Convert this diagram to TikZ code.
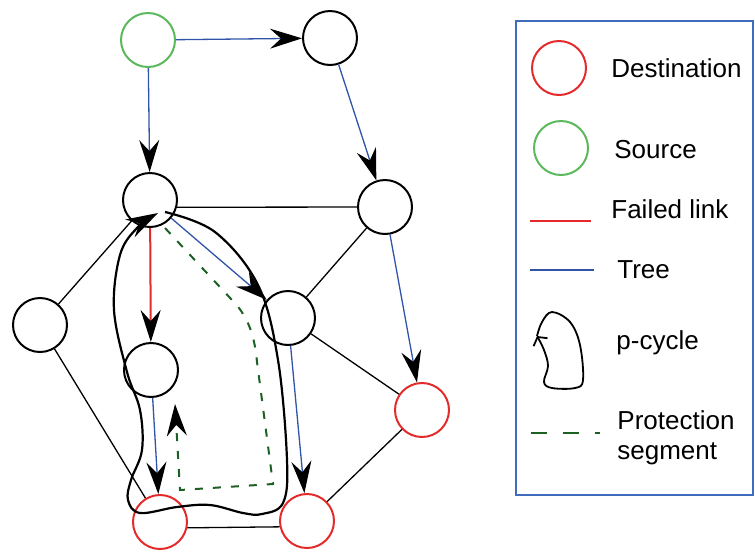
\documentclass[tikz,border=0pt]{standalone}
\usepackage{fontspec}
\setmainfont{Liberation Sans}
\usepackage{xcolor}
\usepackage{tikz}
\usetikzlibrary{
	arrows.meta
}
\definecolor{dred}{RGB}{228,42,42}
\definecolor{sgreen}{RGB}{92,184,92}
\definecolor{tblue}{RGB}{48,84,168}
\definecolor{pgreen}{RGB}{28,96,36}
\definecolor{lblue}{RGB}{64,108,190}
\tikzset{
	vertex/.style={circle,draw,line width=1pt,minimum size=27pt,inner sep=0pt},
	dest/.style={vertex,draw=dred},
	src/.style={vertex,draw=sgreen},
	link/.style={line width=0.65pt,color=black},
	tree/.style={line width=0.65pt,color=tblue},
	failed/.style={line width=1pt,color=dred},
	big/.style={-{Stealth[length=16pt,width=10pt,inset=5.5pt,color=black]}},
	protect/.style={line width=1pt,color=pgreen,dash pattern=on 4pt off 5pt},
	legtext/.style={anchor=west,align=left,inner sep=0pt,font=\fontsize{13}{15}\selectfont}
}

\begin{document}
\begin{tikzpicture}[x=0.5pt,y=-0.5pt]
		\useasboundingbox (0,0) rectangle (755,553);
		\node[src] (S) at (148,40) {};
		\node[vertex] (A) at (330,38) {};
		\node[vertex] (B) at (150,200) {};
		\node[vertex] (C) at (385,207) {};
		\node[vertex] (D) at (40,325) {};
		\node[vertex] (E) at (288,318) {};
		\node[vertex] (F) at (151,370) {};
		\node[dest] (G) at (422,410) {};
		\node[dest] (H) at (160,522) {};
		\node[dest] (I) at (307,521) {};
		%
		\path[link]
		(B.-15) edge (C)
		(D) edge (B)
		(D) edge (H)
		(C) edge (E)
		(E) edge (G)
		(G) edge (I)
		(H.-12) edge (I.192);
		\draw[tree,big] (S) -- (A);
		\draw[tree,big] (S) -- (B);
		\draw[tree,big] (A) -- (C);
		\draw[tree,big] (C) -- (G);
		\draw[tree,big] (B) -- (E);
		\draw[tree,big] (E) -- (I);
		\draw[tree,big] (F) -- (H);
		\draw[failed,big] (B) -- (F);
		
		% p-cycle
		\draw[line width=1.1pt,big] plot[smooth,tension=0.6] coordinates {
			(165,212) (215,232) (258,285) (278,360) (287,460) (283,503)
			(262,514) (243,513) (210,505) (177,507) (140,513) (128,500)
			(131,480) (142,450) (140,410) (127,372) (114,310) (120,255)
			(137,228) (158,213)};
		% protection segment
		\draw[protect,big] (165,228) -- (232,300)
			.. controls (250,318) and (255,340) .. (257,362)
			-- (273,484) -- (180,490) -- (175,404);
		
		% legend
		\draw[lblue,line width=1pt] (516,21) rectangle (753,495);
		\node[dest] (ld) at (559,68) {};
		\node[src] (ls) at (561,148) {};
		\node[legtext] (td) at (611,68) {Destination};
		\node[legtext] (ts) at (614,150) {Source};
		\node[legtext] (tf) at (611,209) {Failed link};
		\node[legtext] (tt) at (617,270) {Tree};
		\node[legtext] (tp) at (616,343) {p-cycle};
		\node[legtext] (tg) at (617,438) {Protection\\segment};
		\coordinate (f1) at (530,221);
		\coordinate (f2) at (591,221);
		\coordinate (t1) at (530,270);
		\coordinate (t2) at (594,270);
		\coordinate (g1) at (531,433);
		\coordinate (g2) at (600,433);
		\draw[failed] (f1) -- (f2);
		\draw[tree] (t1) -- (t2);
		\draw[protect,dash pattern=on 8pt off 8pt] (g1) -- (g2);
		\draw[line width=0.9pt,-{Straight Barb[length=3pt,width=8pt]}]
			plot[smooth,tension=0.6] coordinates {
			(537,336) (542,322) (552,312) (570,322) (580,345) (583,380) (575,388)
			(552,388) (544,382) (548,366) (544,350) (537,336)};
		
	\end{tikzpicture}
\end{document}
